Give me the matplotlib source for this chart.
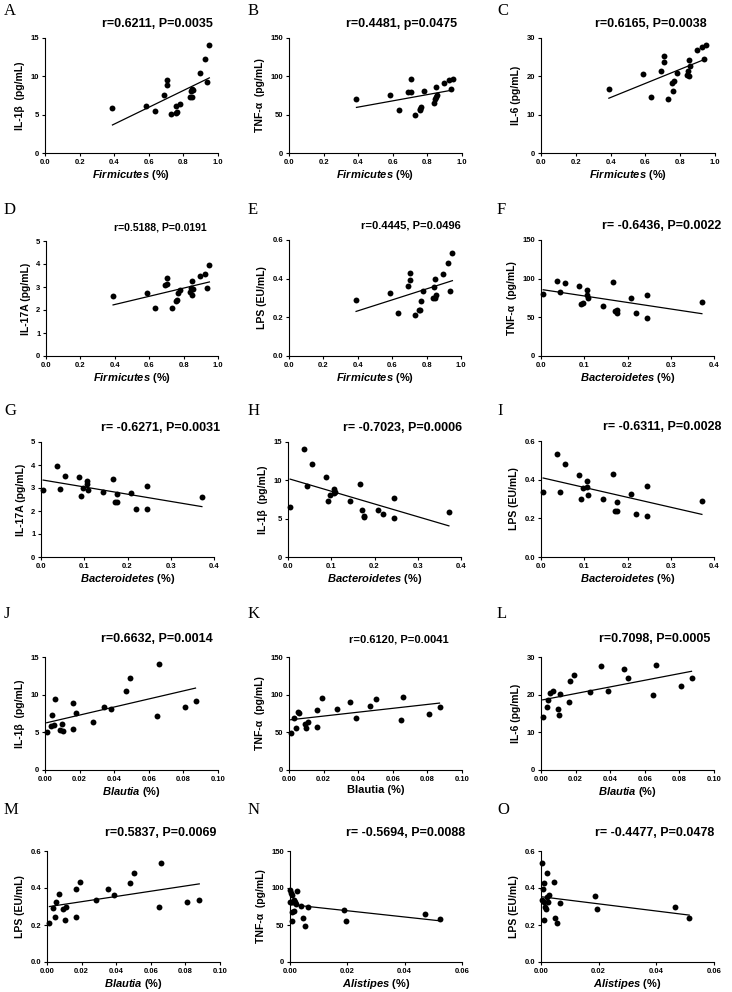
import numpy as np
import matplotlib
matplotlib.use('Agg')
import matplotlib.pyplot as plt

plt.rcParams['font.family'] = ['Liberation Sans', 'DejaVu Sans']
plt.rcParams['font.weight'] = 'bold'
plt.rcParams['mathtext.fontset'] = 'custom'
plt.rcParams['mathtext.it'] = 'Liberation Sans:italic:bold'
plt.rcParams['mathtext.rm'] = 'Liberation Sans:bold'

# Firmicutes panels (A-E) share the same samples on x
firm_x = [0.39, 0.585, 0.635, 0.69, 0.705, 0.705, 0.73, 0.755, 0.76, 0.765,
          0.78, 0.84, 0.845, 0.85, 0.85, 0.855, 0.895, 0.925, 0.935, 0.95]
A_il1b = [5.9, 6.1, 5.5, 7.6, 9.5, 8.9, 5.1, 6.1, 5.2, 5.3,
          6.4, 7.3, 8.1, 8.4, 7.3, 8.2, 10.5, 12.2, 9.3, 14.1]
B_tnf = [70, 76, 56, 79.5, 97, 79.5, 50, 58, 56, 60.5,
         81.5, 65.5, 70, 85.5, 73.5, 76, 91, 95, 83.5, 97]
C_il6 = [16.8, 20.7, 14.6, 21.3, 25.3, 23.7, 14.2, 18.2, 16.3, 18.8,
         20.9, 20.3, 21.3, 24.3, 20.2, 22.6, 26.8, 27.7, 24.5, 28.1]
D_il17 = [2.6, 2.75, 2.1, 3.08, 3.38, 3.13, 2.08, 2.4, 2.42, 2.72,
          2.88, 2.8, 2.95, 3.28, 2.65, 2.9, 3.48, 3.55, 2.95, 3.95]
E_lps = [0.29, 0.327, 0.225, 0.363, 0.43, 0.393, 0.213, 0.24, 0.24, 0.285,
         0.337, 0.298, 0.358, 0.396, 0.298, 0.318, 0.424, 0.481, 0.337, 0.531]

# Bacteroidetes panels (F-I)
bact_x = [0.005, 0.036, 0.045, 0.055, 0.087, 0.092, 0.098, 0.106, 0.107, 0.109,
          0.144, 0.166, 0.17, 0.175, 0.176, 0.207, 0.22, 0.244, 0.244, 0.372]
F_tnf = [80.8, 96.4, 82.6, 93.8, 90.8, 67, 69, 85.2, 78.7, 74.4,
         64.8, 96, 57.9, 55.5, 60, 75.2, 55, 78.7, 49.3, 69.6]
G_il17 = [2.9, 3.97, 2.96, 3.54, 3.5, 2.65, 2.99, 3.29, 3.19, 2.9,
          2.81, 3.38, 2.41, 2.41, 2.73, 2.77, 2.08, 3.08, 2.07, 2.59]
H_il1b = [6.5, 14.1, 9.25, 12.15, 10.46, 7.26, 8.13, 8.9, 8.34, 8.52,
          7.3, 9.5, 6.1, 5.23, 5.3, 6.1, 5.58, 7.65, 5.06, 5.9]
I_lps = [0.337, 0.533, 0.337, 0.481, 0.424, 0.299, 0.358, 0.394, 0.36, 0.32,
         0.298, 0.431, 0.24, 0.24, 0.285, 0.327, 0.225, 0.365, 0.213, 0.291]

# Blautia panels (J-M)
J_x = [0.001, 0.0035, 0.004, 0.005, 0.006, 0.0086, 0.0097, 0.0105, 0.016, 0.016,
       0.018, 0.028, 0.034, 0.038, 0.047, 0.049, 0.065, 0.066, 0.081, 0.087]
J_il1b = [5.0, 5.83, 7.26, 6.0, 9.48, 5.26, 6.04, 5.13, 5.43, 8.87,
          7.6, 6.43, 8.3, 8.04, 10.48, 12.17, 7.2, 14.04, 8.39, 9.22]
K_x = [0.001, 0.003, 0.004, 0.005, 0.006, 0.009, 0.010, 0.011, 0.016, 0.016,
       0.019, 0.028, 0.035, 0.039, 0.047, 0.050, 0.065, 0.066, 0.081, 0.087]
K_tnf = [49.6, 69.6, 55.2, 77.4, 75.2, 60.9, 55.2, 64.3, 79.6, 57.4,
         96.1, 80.9, 90.4, 69.6, 85.2, 94.8, 67, 97.4, 73.9, 83]
L_x = [0.001, 0.0035, 0.004, 0.005, 0.0068, 0.0098, 0.0103, 0.011, 0.016, 0.017,
       0.019, 0.0285, 0.0348, 0.0389, 0.048, 0.050, 0.065, 0.0666, 0.081, 0.087]
L_il6 = [14.2, 16.7, 18.6, 20.5, 21.1, 16.3, 14.5, 20.3, 18.1, 23.6,
         25.1, 20.7, 27.5, 21.1, 26.8, 24.3, 20, 27.8, 22.4, 24.3]
M_x = [0.0014, 0.0035, 0.0046, 0.0054, 0.0068, 0.0095, 0.0103, 0.011, 0.0168, 0.017,
       0.019, 0.0286, 0.035, 0.039, 0.048, 0.050, 0.065, 0.066, 0.081, 0.088]
M_lps = [0.212, 0.292, 0.242, 0.327, 0.365, 0.287, 0.226, 0.299, 0.393, 0.243,
         0.431, 0.337, 0.394, 0.362, 0.428, 0.482, 0.299, 0.534, 0.322, 0.337]

# Alistipes panels (N-O)
N_x = [0.0, 0.0003, 0.0007, 0.0005, 0.0, 0.0014, 0.0016, 0.002, 0.0023, 0.0006,
       0.0014, 0.0008, 0.0038, 0.0044, 0.0051, 0.0063, 0.0189, 0.0196, 0.047, 0.0524]
N_tnf = [97.4, 93, 91, 81, 81, 84.2, 80.7, 79, 96.5, 68,
         69.3, 54.8, 75.4, 60, 49, 74.6, 69.7, 54.8, 64.9, 57.9]
O_x = [0.0005, 0.0012, 0.0008, 0.0004, 0.0012, 0.0014, 0.0019, 0.0012, 0.0021, 0.0022,
       0.0023, 0.0028, 0.0044, 0.005, 0.0054, 0.0067, 0.0189, 0.0194, 0.0465, 0.0514]
O_lps = [0.535, 0.425, 0.395, 0.337, 0.325, 0.298, 0.286, 0.225, 0.482, 0.35,
         0.325, 0.363, 0.43, 0.24, 0.21, 0.319, 0.356, 0.285, 0.296, 0.238]

titles = ['r=0.6211, P=0.0035', 'r=0.4481, p=0.0475', 'r=0.6165, P=0.0038',
          'r=0.5188, P=0.0191', 'r=0.4445, P=0.0496', 'r= -0.6436, P=0.0022',
          'r= -0.6271, P=0.0031', 'r= -0.7023, P=0.0006', 'r= -0.6311, P=0.0028',
          'r=0.6632, P=0.0014', 'r=0.6120, P=0.0041', 'r=0.7098, P=0.0005',
          'r=0.5837, P=0.0069', 'r= -0.5694, P=0.0088', 'r= -0.4477, P=0.0478']

YL_IL1B = 'IL-1\u03b2  (pg/mL)'
YL_TNF = 'TNF-\u03b1  (pg/mL)'
YL_IL6 = 'IL-6 (pg/mL)'
YL_IL17 = 'IL-17A (pg/mL)'
YL_LPS = 'LPS (EU/mL)'

XL_FIRM = r'$\mathit{Firmicutes}$ (%)'
XL_BACT = r'$\mathit{Bacteroidetes}$ (%)'
XL_BLAU = r'$\mathit{Blautia}$ (%)'
XL_ALIS = r'$\mathit{Alistipes}$ (%)'

firm_ticks = (np.arange(0, 1.01, 0.2), '%.1f')
bact_ticks = (np.arange(0, 0.41, 0.1), '%.1f')
blau_ticks = (np.arange(0, 0.101, 0.02), '%.2f')
alis_ticks = (np.arange(0, 0.061, 0.02), '%.2f')

y15 = (np.arange(0, 16, 5), '%d')
y150 = (np.arange(0, 151, 50), '%d')
y30 = (np.arange(0, 31, 10), '%d')
y5 = (np.arange(0, 6, 1), '%d')
y06 = (np.arange(0, 0.61, 0.2), '%.1f')

# letter, x, y, xlabel, xticks, ylabel, yticks, axes box in pixels (l, r, t, b),
# title font size, title right-end shift in px
panels = [
    ('A', firm_x, A_il1b, XL_FIRM, firm_ticks, YL_IL1B, y15, (45, 218, 38, 153), 9, -5),
    ('B', firm_x, B_tnf, XL_FIRM, firm_ticks, YL_TNF, y150, (289, 462, 38, 153), 9, -5),
    ('C', firm_x, C_il6, XL_FIRM, firm_ticks, YL_IL6, y30, (541, 715, 38, 153), 9, -8),
    ('D', firm_x, D_il17, XL_FIRM, firm_ticks, YL_IL17, y5, (46, 218, 241, 356), 7.5, -11),
    ('E', firm_x, E_lps, XL_FIRM, firm_ticks, YL_LPS, y06, (289, 461, 240, 356), 8, 0),
    ('F', bact_x, F_tnf, XL_BACT, bact_ticks, YL_TNF, y150, (541, 714, 240, 356), 9, 7),
    ('G', bact_x, G_il17, XL_BACT, bact_ticks, YL_IL17, y5, (41, 214, 442, 557), 9, 6),
    ('H', bact_x, H_il1b, XL_BACT, bact_ticks, YL_IL1B, y15, (288, 461, 442, 557), 9, 1),
    ('I', bact_x, I_lps, XL_BACT, bact_ticks, YL_LPS, y06, (541, 714, 441, 557), 9, 7),
    ('J', J_x, J_il1b, XL_BLAU, blau_ticks, YL_IL1B, y15, (45, 218, 657, 770), 9, -5),
    ('K', K_x, K_tnf, 'Blautia (%)', blau_ticks, YL_TNF, y150, (289, 462, 657, 770), 8, -13),
    ('L', L_x, L_il6, XL_BLAU, blau_ticks, YL_IL6, y30, (541, 714, 657, 770), 9, -4),
    ('M', M_x, M_lps, XL_BLAU, blau_ticks, YL_LPS, y06, (47, 220, 851, 962), 9, -4),
    ('N', N_x, N_tnf, XL_ALIS, alis_ticks, YL_TNF, y150, (290, 462, 851, 962), 9, 3),
    ('O', O_x, O_lps, XL_ALIS, alis_ticks, YL_LPS, y06, (541, 714, 851, 962), 9, 0),
]

W, H = 732, 992
fig = plt.figure(figsize=(W / 100, H / 100), dpi=100)

for i, (letter, x, y, xl, xt, yl, yt, box, tfs, tshift) in enumerate(panels):
    l, r, t, b = box
    ax = fig.add_axes([l / W, 1 - b / H, (r - l) / W, (b - t) / H])
    x = np.array(x)
    y = np.array(y)
    ax.scatter(x, y, s=18, color='black', zorder=3, clip_on=False, linewidths=0)
    k, c = np.polyfit(x, y, 1)
    xs = np.array([x.min(), x.max()])
    ax.plot(xs, k * xs + c, color='black', lw=0.9)

    ax.set_xlim(xt[0][0], xt[0][-1])
    ax.set_ylim(yt[0][0], yt[0][-1])
    ax.set_xticks(xt[0])
    ax.set_xticklabels([xt[1] % v for v in xt[0]])
    ax.set_yticks(yt[0])
    ax.set_yticklabels([yt[1] % v for v in yt[0]])
    ax.tick_params(direction='out', length=2.5, width=0.8, labelsize=5.5, pad=1.5)
    for s in ['top', 'right']:
        ax.spines[s].set_visible(False)
    for s in ['left', 'bottom']:
        ax.spines[s].set_linewidth(0.8)
    ax.set_xlabel(xl, fontsize=8, fontweight='bold', labelpad=2)
    ax.set_ylabel(yl, fontsize=7.5, fontweight='bold', labelpad=4)

    gap = 14 if i < 9 else 18
    ax.text(1 + tshift / (r - l), 1 + gap / (b - t), titles[i], transform=ax.transAxes,
            ha='right', va='center', fontsize=tfs, fontweight='bold')

    col = i % 3
    row = i // 3
    lx = [4, 248, 497][col]
    ly = [11, 210, 411, 614, 810][row]
    fig.text(lx / W, 1 - ly / H, letter, ha='left', va='center',
             fontsize=12, family='Liberation Serif', fontweight='normal')

fig.savefig('out.png', dpi=100)
